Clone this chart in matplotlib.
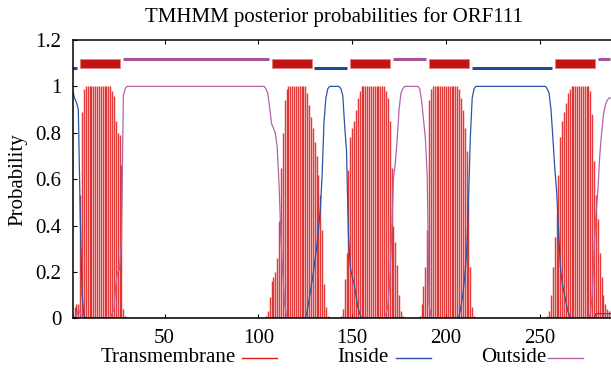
import matplotlib
matplotlib.use("Agg")
import matplotlib.pyplot as plt
from matplotlib.lines import Line2D
import numpy as np

plt.rcParams['font.family'] = ['Liberation Serif', 'DejaVu Serif']

# per-residue posterior probabilities, residues 1..288
residues = np.arange(1, 289)

tm_prob = ([0.0, 0.05, 0.06, 0.06, 0.53, 0.89, 0.99] + [1.0] * 14
           + [0.98, 0.96, 0.85, 0.80, 0.79, 0.66, 0.04, 0.01] + [0.0] * 74
           + [0.01, 0.03, 0.09, 0.16, 0.18, 0.20, 0.26, 0.42, 0.65, 0.80, 0.94, 0.99] + [1.0] * 10
           + [0.97, 0.92, 0.87, 0.82, 0.76, 0.70, 0.62, 0.53, 0.38, 0.15, 0.05, 0.01] + [0.0] * 6
           + [0.01, 0.04, 0.17, 0.28, 0.64, 0.78, 0.82, 0.85, 0.90, 0.95, 0.98] + [1.0] * 13
           + [0.98, 0.95, 0.85, 0.65, 0.40, 0.33, 0.23, 0.10, 0.03, 0.01] + [0.0] * 8
           + [0.01, 0.06, 0.14, 0.22, 0.38, 0.94, 0.99] + [1.0] * 14
           + [0.99, 0.95, 0.90, 0.82, 0.72, 0.50, 0.22, 0.05, 0.01] + [0.0] * 38
           + [0.01, 0.03, 0.10, 0.22, 0.35, 0.45, 0.62, 0.78, 0.85, 0.89, 0.93, 0.97, 0.99] + [1.0] * 10
           + [0.98, 0.88, 0.68, 0.53, 0.43, 0.28, 0.18, 0.10, 0.06, 0.04, 0.03, 0.03])

inside_prob = ([0.98, 0.95, 0.93, 0.90, 0.45, 0.10, 0.01] + [0.0] * 118
               + [0.03, 0.08, 0.13, 0.18, 0.24, 0.30, 0.38, 0.47, 0.62, 0.85, 0.95, 0.99] + [1.0] * 6
               + [0.99, 0.96, 0.83, 0.72, 0.36, 0.22, 0.18, 0.15, 0.10, 0.05, 0.02] + [0.0] * 52
               + [0.01, 0.05, 0.10, 0.18, 0.28, 0.50, 0.78, 0.95, 0.99] + [1.0] * 38
               + [0.99, 0.97, 0.90, 0.78, 0.65, 0.55, 0.38, 0.22, 0.15, 0.11, 0.07, 0.03, 0.01]
               + [0.0] * 13 + [0.02] * 9)

outside_prob = ([0.02, 0.0, 0.01, 0.04, 0.02, 0.01, 0.0] + [0.0] * 14
                + [0.02, 0.04, 0.15, 0.20, 0.21, 0.34, 0.96, 0.99] + [1.0] * 74
                + [0.99, 0.97, 0.91, 0.84, 0.82, 0.80, 0.74, 0.58, 0.35, 0.20, 0.06, 0.01] + [0.0] * 52
                + [0.02, 0.05, 0.15, 0.35, 0.60, 0.67, 0.77, 0.90, 0.97, 0.99] + [1.0] * 8
                + [0.99, 0.94, 0.86, 0.78, 0.62, 0.06, 0.01] + [0.0] * 84
                + [0.02, 0.10, 0.30, 0.45, 0.55, 0.70, 0.80, 0.88, 0.92, 0.94, 0.95, 0.95])

# predicted topology (start, end)
inside_segs = [(1, 4), (130, 148), (214, 257)]
tm_segs = [(5, 27), (107, 129), (149, 171), (191, 213), (258, 280)]
outside_segs = [(28, 106), (172, 190), (281, 288)]

red = '#e01818'
blue = '#2a55a5'
pink = '#b462aa'

fig = plt.figure(figsize=(6.11, 3.74), dpi=100)
ax = fig.add_axes([72.7 / 611, 1 - 318.3 / 374, (611 - 72.7) / 611, (318.3 - 40) / 374])

ax.vlines(residues, 0, tm_prob, colors=red, lw=1.05, alpha=0.85)
ax.plot(residues, inside_prob, color=blue, lw=0.9)
ax.plot(residues, outside_prob, color=pink, lw=0.9)

for s, e in tm_segs:
    ax.fill_between([s, e - 0.6], 1.08, 1.12, color='#c41515', lw=0.5, edgecolor='#e08080')
for s, e in inside_segs:
    ax.plot([s - 0.3, e - 0.6], [1.08, 1.08], color='#1f4a9a', lw=2.2, solid_capstyle='butt')
for s, e in outside_segs:
    ax.plot([s, min(e - 0.6, 288)], [1.12, 1.12], color='#a4549a', lw=2.2, solid_capstyle='butt')

ax.set_xlim(1, 288)
ax.set_ylim(0, 1.2)
ax.set_xticks([50, 100, 150, 200, 250])
ax.set_yticks([0, 0.2, 0.4, 0.6, 0.8, 1.0, 1.2])
ax.set_yticklabels(['0', '0.2', '0.4', '0.6', '0.8', '1', '1.2'])
ax.tick_params(direction='in', top=True, length=3, width=0.8, labelsize=15, pad=8)
ax.spines['right'].set_visible(False)
for sp in ['left', 'bottom', 'top']:
    ax.spines[sp].set_linewidth(1.1)

ax.set_ylabel('Probability', fontsize=15, labelpad=6)
ax.set_title('TMHMM posterior probabilities for ORF111', fontsize=15, pad=13,
             x=(334 - 72.7) / 538.3)

# gnuplot-style key under the axis
ky = 1 - 358 / 374
for label, x_text, x0, x1, col in [('Transmembrane', 236, 242, 277, red),
                                   ('Inside', 389, 396, 431, blue),
                                   ('Outside', 546, 548, 583, pink)]:
    fig.text(x_text / 611, ky, label, ha='right', va='center', fontsize=15)
    fig.lines.append(Line2D([x0 / 611, x1 / 611], [ky, ky], transform=fig.transFigure,
                            color=col, lw=1.0))

fig.savefig('out.png', dpi=100)
